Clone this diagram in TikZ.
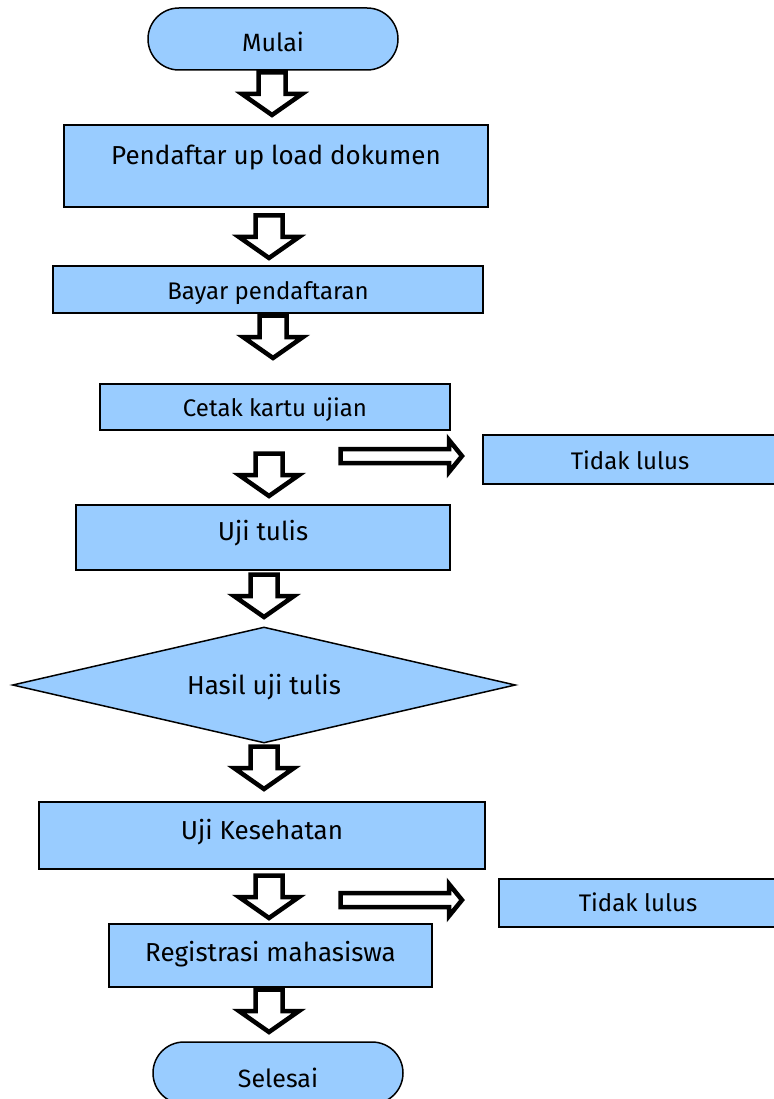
\documentclass[tikz,border=0pt]{standalone}
\usepackage{fontspec}
\setmainfont{Fira Sans}
\usetikzlibrary{shapes.geometric,shapes.misc}
\definecolor{biru}{HTML}{99CCFF}
\tikzset{
  kotak/.style={draw=black, line width=1.5pt, fill=biru, inner sep=0pt,
    text height=30pt, font=\fontsize{26}{31}\selectfont},
  kotakkecil/.style={kotak, font=\fontsize{24}{29}\selectfont},
  terminal/.style={kotak, rounded rectangle, font=\fontsize{25}{30}\selectfont},
  keputusan/.style={kotak, diamond, shape aspect=4.34},
  panah/.style={draw=black, line width=4.5pt, fill=white, line join=miter},
  panahbawah/.pic={\draw[panah] (-13.5,2.5) -- (-13.5,24) -- (-30,24) -- (0,45)
    -- (30,24) -- (13.5,24) -- (13.5,2.5) -- cycle;},
  panahkanan/.pic={\draw[panah] (2.5,-7) -- (111,-7) -- (111,-16) -- (124,0)
    -- (111,16) -- (111,7) -- (2.5,7) -- cycle;}
}
\begin{document}
\begin{tikzpicture}[x=1pt, y=-1pt]
\useasboundingbox (0,0) rectangle (773,1099);
% Langkah
\node[terminal, minimum width=250, minimum height=62, text depth=4pt] (mulai) at (273,39) {Mulai};
\node[kotak, minimum width=424, minimum height=82, text depth=32pt] (upload) at (276,166) {Pendaftar up load dokumen};
\node[kotakkecil, minimum width=430, minimum height=47, text depth=10pt] (bayar) at (268,289.5) {Bayar pendaftaran};
\node[kotakkecil, minimum width=350, minimum height=46, text depth=12pt] (cetak) at (275,407) {Cetak kartu ujian};
\node[kotakkecil, minimum width=294, minimum height=49, text depth=11pt] (tidak1) at (630,459.5) {Tidak lulus};
\node[kotak, minimum width=374, minimum height=65, text depth=25pt] (ujitulis) at (263,537.5) {Uji tulis};
\node[keputusan, minimum width=503, minimum height=116, text depth=12pt] (hasil) at (264,685) {Hasil uji tulis};
\node[kotak, minimum width=446, minimum height=67, text depth=23pt] (ujikes) at (262,835.5) {Uji Kesehatan};
\node[kotakkecil, minimum width=278, minimum height=48, text depth=13pt] (tidak2) at (638,903) {Tidak lulus};
\node[kotak, minimum width=323, minimum height=63, text depth=18pt] (registrasi) at (270.5,955.5) {Registrasi mahasiswa};
\node[terminal, minimum width=250, minimum height=62, text depth=2pt] (selesai) at (278,1073) {Selesai};
% Panah
\foreach \x/\y in {272/70, 269/213, 273/313, 269/451, 264/572, 264/744, 269/873, 269/987}
  \pic at (\x,\y) {panahbawah};
\pic at (338,456) {panahkanan};
\pic at (338,900) {panahkanan};
\end{tikzpicture}
\end{document}
